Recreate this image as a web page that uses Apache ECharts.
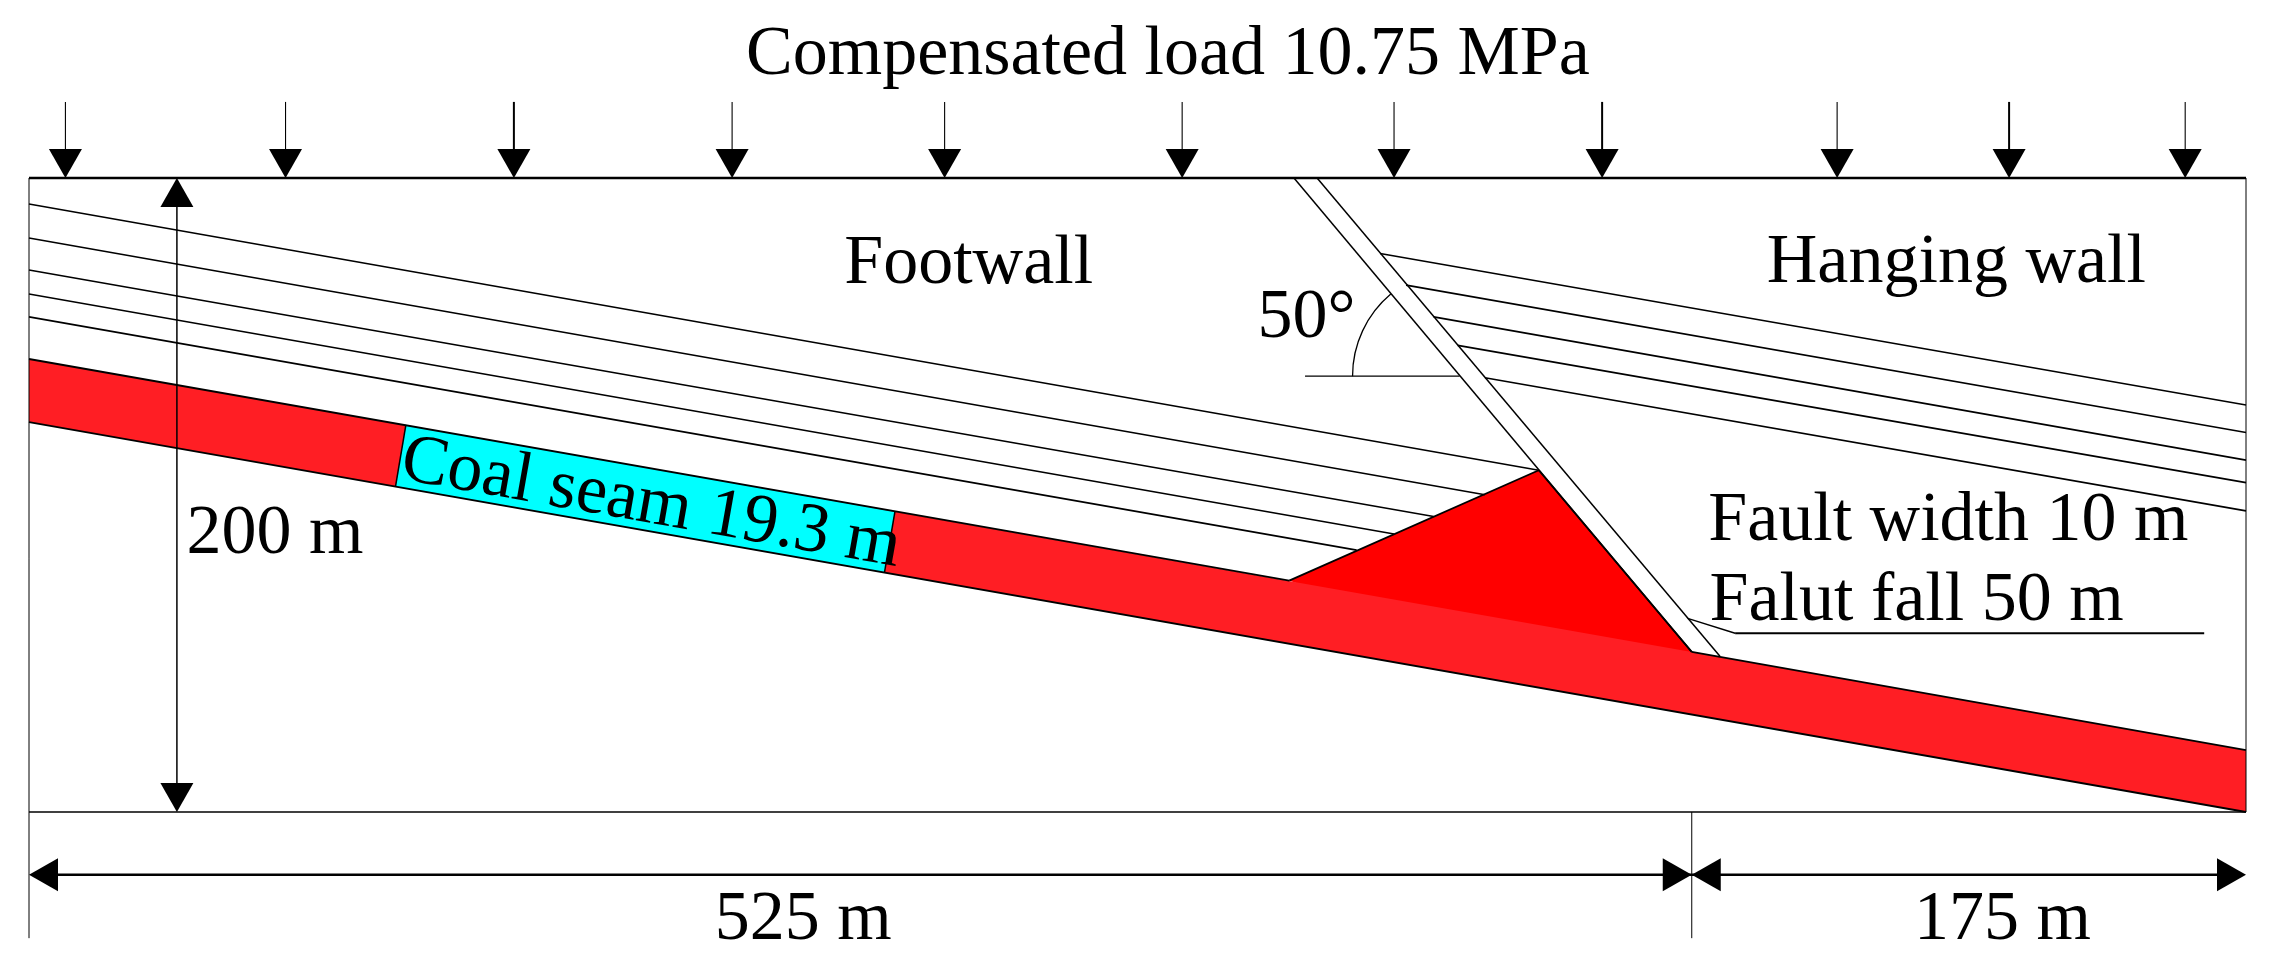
<!DOCTYPE html>
<html><head><meta charset="utf-8">
<style>html,body{margin:0;padding:0;background:#fff}#c{width:2277px;height:979px}</style>
<script src="https://cdn.jsdelivr.net/npm/echarts@6/dist/echarts.min.js"></script>
</head><body><div id="c"></div>
<script>
// All geometry in metres: model is 700 m wide and 200 m high.
const modelWidth = 700, modelHeight = 200;
const footwallStrata = [
  [[0,191.8],[476.7,107.8]], [[0,181.1],[459.7,100.1]], [[0,171.0],[443.5,93.2]],
  [[0,163.4],[431.0,87.7]], [[0,156.2],[419.2,82.6]]
];
const hangingStrata = [
  [[426.6,176.2],[700,128.4]], [[434.8,166.2],[700,119.7]], [[443.5,156.2],[700,111.0]],
  [[451.1,147.2],[700,103.9]], [[459.7,137.0],[700,95.0]]
];
const faultLeft = [[399.4,200],[525,50.5]];
const faultRight = [[406.7,200],[533.9,49.1]];
const seamPolygon = [[0,142.9],[525,50.5],[533.9,48.9],[700,19.5],[700,0],[0,123.0]];
const seamEdges = [
  [[0,142.9],[397.9,73.0]], [[525,50.5],[700,19.5]], [[0,123.0],[700,0]]
];
const uplift = [[397.9,73.0],[476.7,107.8],[525,50.5]];
const upliftInSeam = [460,50];
const coalBlock = [[119,122.1],[273.4,94.7],[270.1,75.5],[115.7,102.6]];
const loadArrowX = [11.5,81,153.1,222,289.1,364.1,431,496.7,570.9,625.2,680.8];
const heavyStems = [2,7,9];
const loadStemTop = 224;
const heightDimX = 46.7;
const spanDimY = -19.8, spanDimBreaks = [0,525,700], extensionEnd = -39.8;
const angleRay = [[402.9,137.5],[451.7,137.5]];
const angleArc = {centre:[451.7,137.5], radius:33.8, fromDeg:180, toDeg:230};
const leader = [[523.7,61.1],[538.7,56.4],[686.8,56.4]];
const labels = [
  ['Compensated load 10.75 MPa',226.4,232.8,0],
  ['Footwall',257.4,166.9,0],
  ['Hanging wall',548.7,167.3,0],
  ['50°',387.9,149.9,0],
  ['Fault width 10 m',530.2,86,0],
  ['Falut fall 50 m',530.6,60.6,0],
  ['200 m',49.7,81.7,0],
  ['Coal seam 19.3 m',116.8,105.3,-10],
  ['525 m',216.5,-40,0],
  ['175 m',595.2,-40,0]
];

const FONT_SIZE = 70, BLACK = '#000';
const line = (pts, w, z) => ({
  type:'line', data:pts, showSymbol:false, symbol:'none', clip:false, silent:true, z:z||5,
  lineStyle:{color:BLACK,width:w}, xAxisIndex:0, yAxisIndex:0
});
const polygon = (pts, fill, z) => ({
  type:'custom', clip:false, silent:true, z:z, data:[0],
  renderItem:(p,api)=>({type:'polygon',shape:{points:pts.map(q=>api.coord(q))},style:{fill:fill,stroke:null}})
});
// Arrow head drawn from a tip, pointing along (dx,dy) in screen space.
const head = (tip, dx, dy) => ({
  type:'custom', clip:false, silent:true, z:7, data:[0],
  renderItem:(p,api)=>{
    const c=api.coord(tip), L=29, H=16.5;
    return {type:'polygon',shape:{points:[c,
      [c[0]-dx*L-dy*H,c[1]-dy*L-dx*H],[c[0]-dx*L+dy*H,c[1]-dy*L+dx*H]]},style:{fill:BLACK}};
  }
});

const series = [];
series.push(polygon(uplift.concat([upliftInSeam]),'#ff0000',1));
series.push(polygon(seamPolygon,'#ff1e24',2));
series.push(polygon(coalBlock,'#00ffff',3));
seamEdges.forEach(s=>series.push(line(s,1.8)));
series.push(line([coalBlock[0],coalBlock[3]],1.5));
series.push(line([coalBlock[1],coalBlock[2]],1.5));
series.push(line([uplift[0],uplift[1],uplift[2]],1.8));
footwallStrata.concat(hangingStrata).forEach(s=>series.push(line(s,1.6)));
series.push(line(faultLeft,1.5));
series.push(line(faultRight,1.5));
// model box
series.push(line([[0,modelHeight],[modelWidth,modelHeight]],2.4));
series.push(line([[0,modelHeight],[0,extensionEnd]],1));
series.push(line([[modelWidth,modelHeight],[modelWidth,0]],1));
series.push(line([[0,0],[modelWidth,0]],1.6));
series.push(line([[525,0],[525,extensionEnd]],1));
// loads
loadArrowX.forEach((x,i)=>{
  series.push(line([[x,loadStemTop],[x,modelHeight+5]],heavyStems.includes(i)?2:1.1));
  series.push(head([x,modelHeight],0,1));
});
// height dimension
series.push(line([[heightDimX,modelHeight-5],[heightDimX,5]],1.5));
series.push(head([heightDimX,modelHeight],0,-1));
series.push(head([heightDimX,0],0,1));
// span dimension
series.push(line([[spanDimBreaks[0]+5,spanDimY],[spanDimBreaks[2]-5,spanDimY]],2.6));
series.push(head([spanDimBreaks[0],spanDimY],-1,0));
series.push(head([spanDimBreaks[1],spanDimY],1,0));
series.push(head([spanDimBreaks[1],spanDimY],-1,0));
series.push(head([spanDimBreaks[2],spanDimY],1,0));
// angle + leader
series.push(line(angleRay,1.4));
series.push(line(leader.slice(0,2),1.4));
series.push(line(leader.slice(1),2));
series.push({
  type:'custom', clip:false, silent:true, z:6, data:[0],
  renderItem:(p,api)=>{
    const c=api.coord(angleArc.centre), r=api.size([angleArc.radius,0])[0];
    return {type:'arc',shape:{cx:c[0],cy:c[1],r:r,
      startAngle:angleArc.fromDeg*Math.PI/180,endAngle:angleArc.toDeg*Math.PI/180,clockwise:true},
      style:{fill:null,stroke:BLACK,lineWidth:1.3}};
  }
});
// text: anchors are the left end of the baseline
series.push({
  type:'custom', clip:false, silent:true, z:10, data:labels.map((l,i)=>i),
  renderItem:(p,api)=>{
    const l=labels[p.dataIndex], c=api.coord([l[1],l[2]]), a=l[3]*Math.PI/180;
    const up=0.26*FONT_SIZE;
    return {type:'text',x:c[0]+up*Math.sin(-a),y:c[1]-up*Math.cos(a),rotation:a,
      style:{text:l[0],fill:BLACK,font:FONT_SIZE+'px "Liberation Serif","Times New Roman",serif',
        align:'left',verticalAlign:'middle'}};
  }
});

const chart = echarts.init(document.getElementById('c'),null,{renderer:'canvas',width:2277,height:979});
chart.setOption({
  animation:false, backgroundColor:'#fff',
  grid:{left:29,top:178,width:2217,height:634,containLabel:false},
  xAxis:{type:'value',min:0,max:modelWidth,show:false},
  yAxis:{type:'value',min:0,max:modelHeight,show:false},
  tooltip:{show:false}, legend:{show:false},
  series:series
});
</script></body></html>
